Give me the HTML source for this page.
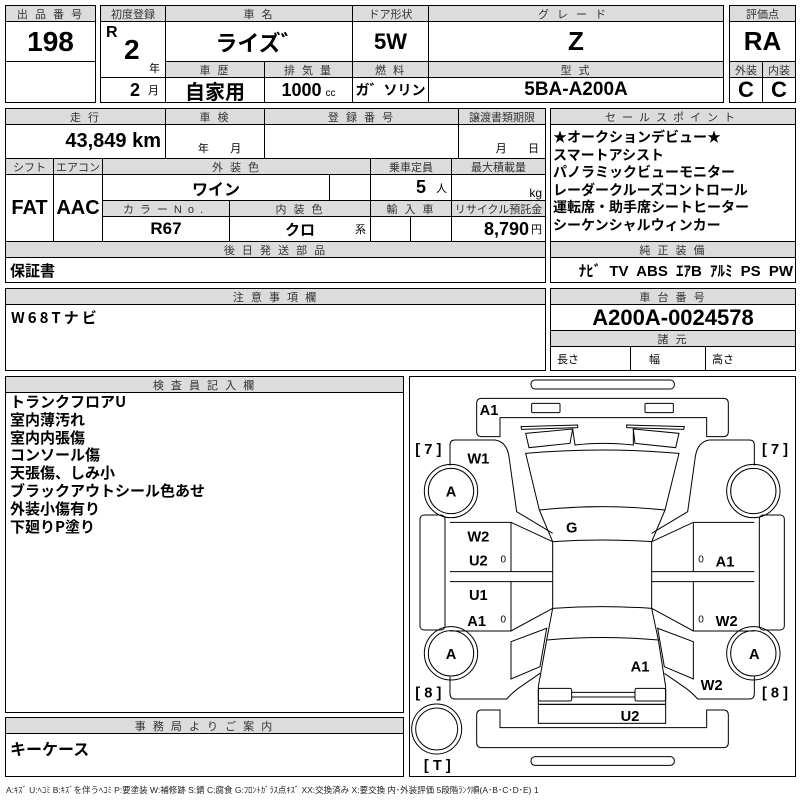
<!DOCTYPE html>
<html><head><meta charset="utf-8"><style>
body{margin:0;width:800px;height:800px;background:#fff;position:relative;overflow:hidden;font-family:"Liberation Sans","Noto Sans CJK JP",sans-serif;}
.c{position:absolute;border:1px solid #000;box-sizing:border-box;display:flex;align-items:center;justify-content:center;overflow:hidden;white-space:nowrap;color:#000}
.h{background:#dcdcdc;font-size:11px;color:#333;letter-spacing:2px;}
.n{font-family:"Liberation Sans Narrow","Liberation Sans","Noto Sans CJK JP",sans-serif;font-weight:bold;}
.j{font-family:"Noto Sans CJK JP",sans-serif;font-weight:bold;}
</style></head><body>
<div class="c h" style="left:5px;top:5px;width:91px;height:17px">出 品 番 号</div>
<div class="c n" style="left:5px;top:21px;width:91px;height:41px;font-size:28px">198</div>
<div class="c" style="left:5px;top:61px;width:91px;height:42px"></div>
<div class="c h" style="left:100px;top:5px;width:66px;height:17px;letter-spacing:0">初度登録</div>
<div class="c h" style="left:165px;top:5px;width:188px;height:17px">車 名</div>
<div class="c h" style="left:352px;top:5px;width:77px;height:17px;letter-spacing:0">ドア形状</div>
<div class="c h" style="left:428px;top:5px;width:296px;height:17px;letter-spacing:8px">グレード</div>
<div class="c" style="left:100px;top:21px;width:66px;height:57px"><span class="n" style="position:absolute;left:5px;top:2px;font-size:16px">R</span><span class="n" style="position:absolute;left:23px;top:12px;font-size:28px">2</span><span style="position:absolute;left:48px;top:38px;font-size:11px">年</span></div>
<div class="c n" style="left:165px;top:21px;width:188px;height:41px;font-size:22px">ライズ゛</div>
<div class="c n" style="left:352px;top:21px;width:77px;height:41px;font-size:22px">5W</div>
<div class="c n" style="left:428px;top:21px;width:296px;height:41px;font-size:26px">Z</div>
<div class="c h" style="left:165px;top:61px;width:100px;height:17px">車 歴</div>
<div class="c h" style="left:264px;top:61px;width:89px;height:17px">排 気 量</div>
<div class="c h" style="left:352px;top:61px;width:77px;height:17px">燃 料</div>
<div class="c h" style="left:428px;top:61px;width:296px;height:17px">型 式</div>
<div class="c" style="left:100px;top:77px;width:66px;height:26px;justify-content:flex-end;padding-right:6px"><span class="n" style="font-size:18px">2</span><span style="font-size:11px;margin-left:8px">月</span></div>
<div class="c j" style="left:165px;top:77px;width:100px;height:26px;font-size:20px">自家用</div>
<div class="c" style="left:264px;top:77px;width:89px;height:26px"><span class="n" style="font-size:18px">1000</span><span style="font-size:10px;margin-left:4px;margin-top:6px">cc</span></div>
<div class="c n" style="left:352px;top:77px;width:77px;height:26px;font-size:14px">ガ゛ソリン</div>
<div class="c n" style="left:428px;top:77px;width:296px;height:26px;font-size:19px">5BA-A200A</div>
<div class="c h" style="left:729px;top:5px;width:67px;height:17px;letter-spacing:0">評価点</div>
<div class="c n" style="left:729px;top:21px;width:67px;height:41px;font-size:26px">RA</div>
<div class="c h" style="left:729px;top:61px;width:34px;height:17px;letter-spacing:0">外装</div>
<div class="c h" style="left:762px;top:61px;width:34px;height:17px;letter-spacing:0">内装</div>
<div class="c n" style="left:729px;top:77px;width:34px;height:26px;font-size:22px">C</div>
<div class="c n" style="left:762px;top:77px;width:34px;height:26px;font-size:22px">C</div>
<div class="c h" style="left:5px;top:108px;width:161px;height:17px">走 行</div>
<div class="c h" style="left:165px;top:108px;width:100px;height:17px">車 検</div>
<div class="c h" style="left:264px;top:108px;width:195px;height:17px">登 録 番 号</div>
<div class="c h" style="left:458px;top:108px;width:88px;height:17px;letter-spacing:0">譲渡書類期限</div>
<div class="c" style="left:5px;top:124px;width:161px;height:35px;justify-content:flex-end;padding-right:4px"><span class="n" style="font-size:20px">43,849 km</span></div>
<div class="c" style="left:165px;top:124px;width:100px;height:35px;font-size:11px;align-items:flex-end;padding-bottom:2px">&nbsp;&nbsp;&nbsp;年&nbsp;&nbsp;&nbsp;&nbsp;&nbsp;&nbsp;&nbsp;月</div>
<div class="c" style="left:264px;top:124px;width:195px;height:35px"></div>
<div class="c" style="left:458px;top:124px;width:88px;height:35px;font-size:11px;align-items:flex-end;padding-bottom:2px;justify-content:flex-end;padding-right:6px">月&nbsp;&nbsp;&nbsp;&nbsp;&nbsp;&nbsp;&nbsp;日</div>
<div class="c h" style="left:5px;top:158px;width:49px;height:17px;letter-spacing:0">シフト</div>
<div class="c h" style="left:53px;top:158px;width:50px;height:17px;letter-spacing:0">エアコン</div>
<div class="c h" style="left:102px;top:158px;width:269px;height:17px">外 装 色</div>
<div class="c h" style="left:370px;top:158px;width:82px;height:17px;letter-spacing:0">乗車定員</div>
<div class="c h" style="left:451px;top:158px;width:95px;height:17px;letter-spacing:0">最大積載量</div>
<div class="c n" style="left:5px;top:174px;width:49px;height:68px;font-size:20px">FAT</div>
<div class="c n" style="left:53px;top:174px;width:50px;height:68px;font-size:20px">AAC</div>
<div class="c n" style="left:102px;top:174px;width:228px;height:27px;font-size:16px">ワイン</div>
<div class="c" style="left:329px;top:174px;width:42px;height:27px"></div>
<div class="c" style="left:370px;top:174px;width:82px;height:27px;justify-content:flex-end;padding-right:4px"><span class="n" style="font-size:18px">5</span><span style="font-size:11px;margin-left:10px">人</span></div>
<div class="c" style="left:451px;top:174px;width:95px;height:27px;justify-content:flex-end;padding-right:3px;font-size:12px;align-items:flex-end">kg</div>
<div class="c h" style="left:102px;top:200px;width:128px;height:17px;letter-spacing:6px">カラーNo.</div>
<div class="c h" style="left:229px;top:200px;width:142px;height:17px">内 装 色</div>
<div class="c h" style="left:370px;top:200px;width:82px;height:17px">輸 入 車</div>
<div class="c h" style="left:451px;top:200px;width:95px;height:17px;letter-spacing:0">リサイクル預託金</div>
<div class="c n" style="left:102px;top:216px;width:128px;height:26px;font-size:17px">R67</div>
<div class="c" style="left:229px;top:216px;width:142px;height:26px"><span class="n" style="font-size:15px">クロ</span><span style="position:absolute;right:4px;font-size:11px">系</span></div>
<div class="c" style="left:370px;top:216px;width:41px;height:26px"></div>
<div class="c" style="left:410px;top:216px;width:42px;height:26px"></div>
<div class="c" style="left:451px;top:216px;width:95px;height:26px;justify-content:flex-end;padding-right:3px"><span class="n" style="font-size:18px">8,790</span><span style="font-size:11px;margin-left:2px">円</span></div>
<div class="c h" style="left:5px;top:241px;width:541px;height:17px">後 日 発 送 部 品</div>
<div class="c j" style="left:5px;top:257px;width:541px;height:26px;justify-content:flex-start;padding-left:4px;font-size:15px">保証書</div>
<div class="c h" style="left:550px;top:108px;width:246px;height:17px;letter-spacing:6px">セールスポイント</div>
<div class="c j" style="left:550px;top:124px;width:246px;height:118px;display:block;font-size:14px;line-height:17.6px;padding:4px 0 0 2px">★オークションデビュー★<br>スマートアシスト<br>パノラミックビューモニター<br>レーダークルーズコントロール<br>運転席・助手席シートヒーター<br>シーケンシャルウィンカー</div>
<div class="c h" style="left:550px;top:241px;width:246px;height:17px">純 正 装 備</div>
<div class="c n" style="left:550px;top:257px;width:246px;height:26px;font-size:15px;word-spacing:4px;justify-content:flex-end;padding-right:2px">ﾅﾋﾞ TV ABS ｴｱB ｱﾙﾐ PS PW</div>
<div class="c h" style="left:5px;top:288px;width:541px;height:17px">注 意 事 項 欄</div>
<div class="c j" style="left:5px;top:304px;width:541px;height:67px;align-items:flex-start;justify-content:flex-start;padding:2px 0 0 5px;font-size:15px;letter-spacing:3px">W68Tナビ</div>
<div class="c h" style="left:550px;top:288px;width:246px;height:17px">車 台 番 号</div>
<div class="c n" style="left:550px;top:304px;width:246px;height:27px;font-size:22px">A200A-0024578</div>
<div class="c h" style="left:550px;top:330px;width:246px;height:17px">諸 元</div>
<div class="c" style="left:550px;top:346px;width:81px;height:25px;justify-content:flex-start;padding-left:6px;font-size:11px">長さ</div>
<div class="c" style="left:630px;top:346px;width:76px;height:25px;justify-content:flex-start;padding-left:18px;font-size:11px">幅</div>
<div class="c" style="left:705px;top:346px;width:91px;height:25px;justify-content:flex-start;padding-left:6px;font-size:11px">高さ</div>
<div class="c h" style="left:5px;top:376px;width:399px;height:17px">検 査 員 記 入 欄</div>
<div class="c j" style="left:5px;top:392px;width:399px;height:321px;display:block;font-size:15px;line-height:17.8px;padding:0 0 0 4px">トランクフロアU<br>室内薄汚れ<br>室内内張傷<br>コンソール傷<br>天張傷、しみ小<br>ブラックアウトシール色あせ<br>外装小傷有り<br>下廻りP塗り</div>
<div class="c h" style="left:5px;top:717px;width:399px;height:17px">事 務 局 よ り ご 案 内</div>
<div class="c j" style="left:5px;top:733px;width:399px;height:44px;align-items:flex-start;justify-content:flex-start;padding:2px 0 0 4px;font-size:16px">キーケース</div>
<div class="c" style="left:409px;top:376px;width:387px;height:401px"></div>
<div style="position:absolute;left:6px;top:784px;font-size:8.5px;white-space:nowrap;color:#222">A:ｷｽﾞ U:ﾍｺﾐ B:ｷｽﾞを伴うﾍｺﾐ P:要塗装 W:補修跡 S:錆 C:腐食 G:ﾌﾛﾝﾄｶﾞﾗｽ点ｷｽﾞ XX:交換済み X:要交換 内･外装評価 5段階ﾗﾝｸ順(A･B･C･D･E) 1</div>
<svg style="position:absolute;left:405px;top:375px" width="395" height="400" viewBox="0 0 1185 1200">
<g fill="none" stroke="#000" stroke-width="3">
<rect x="378" y="15" width="430" height="27" rx="12"/>
<rect x="378" y="1145" width="430" height="26" rx="12"/>
<path d="M230,70 H955 Q970,70 970,85 V170 Q970,185 955,185 H905 V128 H285 V185 H230 Q215,185 215,170 V85 Q215,70 230,70 Z"/>
<path d="M230,1005 H285 V1058 H905 V1005 H955 Q970,1005 970,1020 V1103 Q970,1118 955,1118 H230 Q215,1118 215,1103 V1020 Q215,1005 230,1005 Z"/>
<rect x="380" y="85" width="85" height="28" rx="3"/>
<rect x="720" y="85" width="85" height="28" rx="3"/>
<path d="M348,155 L518,150 L518,158 L350,163 Z"/>
<path d="M665,150 L838,155 L836,163 L665,158 Z"/>
<path d="M362,175 L503,162 L495,205 L372,218 Z"/>
<path d="M685,162 L822,175 L812,218 L690,205 Z"/>
<path d="M503,162 L510,210 Q592,200 685,210 L685,162"/>
<path d="M362,235 Q592,215 822,235 L780,405 Q592,385 403,405 Z"/>
<path d="M403,405 L443,500 Q592,490 740,500 L780,405"/>
<path d="M443,500 V700 Q592,690 740,700 V500"/>
<path d="M443,700 L425,795 Q592,780 760,795 L740,700"/>
<path d="M425,795 L400,935 V988 H782 V935 L760,795"/>
<rect x="400" y="940" width="100" height="38" rx="5"/>
<rect x="690" y="940" width="92" height="38" rx="5"/>
<path d="M500,952 H690 M500,966 H690"/>
<rect x="400" y="988" width="382" height="57"/>
<circle cx="95" cy="1062" r="75"/><circle cx="95" cy="1062" r="63"/>
<g id="L">
<path d="M135,272 V210 Q135,195 150,195 H270 Q305,200 312,245 L335,410 L443,475"/>
<path d="M135,442 H318 L443,500 M318,442 V590 M135,590 H443 M135,620 H443 M135,768 H318 L443,700 M318,620 V768"/>
<path d="M318,800 L425,760 L405,875 L318,912 Z"/>
<path d="M135,905 V955 Q135,972 150,972 H305 Q320,955 340,940 L405,895"/>
<rect x="45" y="420" width="75" height="345" rx="12"/>
<circle cx="138" cy="348" r="80"/><circle cx="138" cy="348" r="68"/>
<circle cx="138" cy="835" r="80"/><circle cx="138" cy="835" r="68"/>
</g>
<use href="#L" transform="translate(1183,0) scale(-1,1)"/>
</g>
<g font-family="Liberation Sans Narrow, Liberation Sans, sans-serif" font-weight="bold" font-size="44" text-anchor="middle" fill="#000">
<text x="252" y="120">A1</text><text x="220" y="265">W1</text><text x="138" y="365">A</text>
<text x="220" y="500">W2</text><text x="220" y="572">U2</text><text x="220" y="675">U1</text><text x="215" y="753">A1</text>
<text x="138" y="852">A</text><text x="500" y="473">G</text><text x="960" y="575">A1</text><text x="965" y="753">W2</text>
<text x="1048" y="852">A</text><text x="705" y="890">A1</text><text x="920" y="945">W2</text><text x="675" y="1038">U2</text>
<text x="70" y="237">[ 7 ]</text><text x="1110" y="237">[ 7 ]</text><text x="70" y="967">[ 8 ]</text><text x="1110" y="967">[ 8 ]</text><text x="97" y="1185">[ T ]</text>
<text x="295" y="563" font-size="30" font-weight="normal">0</text><text x="295" y="743" font-size="30" font-weight="normal">0</text>
<text x="888" y="563" font-size="30" font-weight="normal">0</text><text x="888" y="743" font-size="30" font-weight="normal">0</text>
</g>
</svg>
</body></html>
